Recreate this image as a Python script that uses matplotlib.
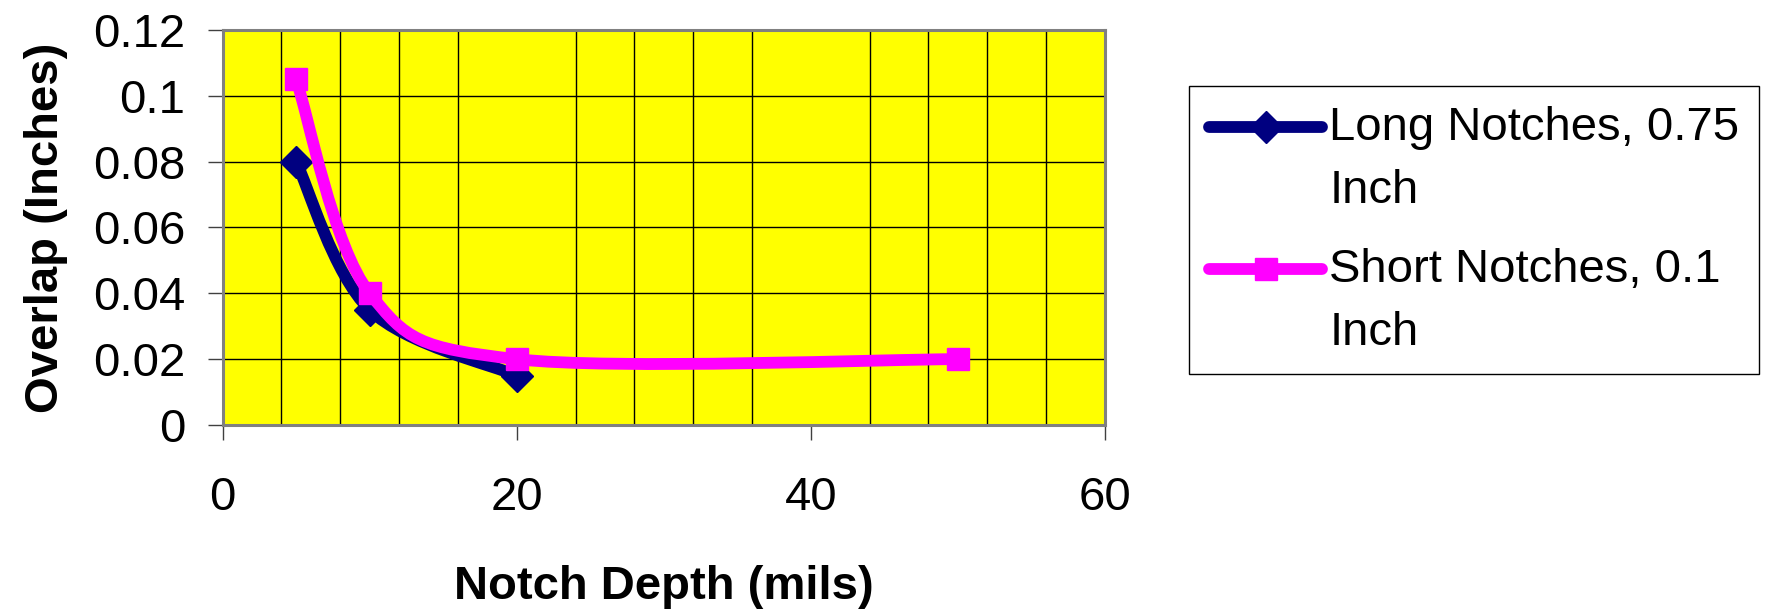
import numpy as np
import matplotlib
matplotlib.use("Agg")
import matplotlib.pyplot as plt
from matplotlib.path import Path
from matplotlib.patches import PathPatch
from matplotlib.lines import Line2D
from matplotlib.legend_handler import HandlerLine2D
from matplotlib.ticker import MultipleLocator, FuncFormatter

# data
long_depth = [5, 10, 20]
long_overlap = [0.08, 0.035, 0.015]
short_depth = [5, 10, 20, 50]
short_overlap = [0.105, 0.04, 0.02, 0.02]

long_label = "Long Notches, 0.75\nInch"
short_label = "Short Notches, 0.1\nInch"

plt.rcParams['font.family'] = ['Liberation Sans', 'DejaVu Sans']


def smooth_path(xs, ys):
    # excel style smoothed line (catmull-rom as bezier)
    pts = np.column_stack([xs, ys]).astype(float)
    n = len(pts)
    verts = [pts[0]]
    codes = [Path.MOVETO]
    for i in range(n - 1):
        p0 = pts[max(i - 1, 0)]
        p1 = pts[i]
        p2 = pts[i + 1]
        p3 = pts[min(i + 2, n - 1)]
        c1 = p1 + (p2 - p0) / 6.0
        c2 = p2 - (p3 - p1) / 6.0
        verts += [c1, c2, p2]
        codes += [Path.CURVE4] * 3
    return Path(verts, codes)


class FirstLineHandler(HandlerLine2D):
    # put the legend line next to the first text line, not the middle
    def __init__(self, shift, **kw):
        super().__init__(**kw)
        self.shift = shift

    def create_artists(self, legend, orig_handle, xdescent, ydescent,
                       width, height, fontsize, trans):
        # line y is (height - ydescent)/2, so shift twice
        return super().create_artists(legend, orig_handle, xdescent,
                                      ydescent - 2 * self.shift, width, height,
                                      fontsize, trans)


fig = plt.figure(figsize=(17.71, 6.10), dpi=100)
ax = fig.add_axes([0.1257, 0.3033, 0.4982, 0.6475])
ax.set_facecolor('#FFFF00')

navy = '#000080'
pink = '#FF00FF'

ax.add_patch(PathPatch(smooth_path(long_depth, long_overlap), facecolor='none',
                       edgecolor=navy, lw=8.5, capstyle='round', joinstyle='round', zorder=3))
ax.plot(long_depth, long_overlap, ls='none', marker='D', ms=16, color=navy, zorder=4)

ax.add_patch(PathPatch(smooth_path(short_depth, short_overlap), facecolor='none',
                       edgecolor=pink, lw=8.5, capstyle='round', joinstyle='round', zorder=5))
ax.plot(short_depth, short_overlap, ls='none', marker='s', ms=16, color=pink, zorder=6)

ax.set_xlim(0, 60)
ax.set_ylim(0, 0.12)
ax.xaxis.set_major_locator(MultipleLocator(20))
ax.xaxis.set_minor_locator(MultipleLocator(4))
ax.yaxis.set_major_locator(MultipleLocator(0.02))
ax.yaxis.set_major_formatter(FuncFormatter(lambda v, p: '%g' % round(v, 3)))

ax.grid(True, axis='x', which='minor', color='black', lw=1.0)
ax.grid(True, axis='y', which='major', color='black', lw=1.0)
ax.set_axisbelow(True)

for s in ax.spines.values():
    s.set_color('#808080')
    s.set_linewidth(2.2)

ax.tick_params(which='major', length=11, width=1, color='#404040', labelsize=34)
ax.tick_params(axis='x', which='major', pad=26)
ax.tick_params(axis='y', which='major', pad=16)
ax.tick_params(which='minor', length=0)

ax.set_xlabel('Notch Depth (mils)', fontsize=34, fontweight='bold', labelpad=32)
ax.set_ylabel('Overlap (Inches)', fontsize=34, fontweight='bold', labelpad=18)

h1 = Line2D([], [], color=navy, lw=8.5, marker='D', ms=16, solid_capstyle='round')
h2 = Line2D([], [], color=pink, lw=8.5, marker='s', ms=16, solid_capstyle='round')
leg = fig.legend([h1, h2], [long_label, short_label], loc='upper left',
                 bbox_to_anchor=(1189 / 1771, 1 - 86 / 610), fontsize=34,
                 frameon=True, fancybox=False, edgecolor='black', framealpha=1,
                 handlelength=2.4, handletextpad=0.15, borderpad=0.42,
                 labelspacing=0.75, borderaxespad=0,
                 handler_map={h1: FirstLineHandler(23.5), h2: FirstLineHandler(23.5)})
leg.get_frame().set_linewidth(1.0)
for t in leg.get_texts():
    t.set_linespacing(1.55)

fig.savefig('out.png', dpi=100)
